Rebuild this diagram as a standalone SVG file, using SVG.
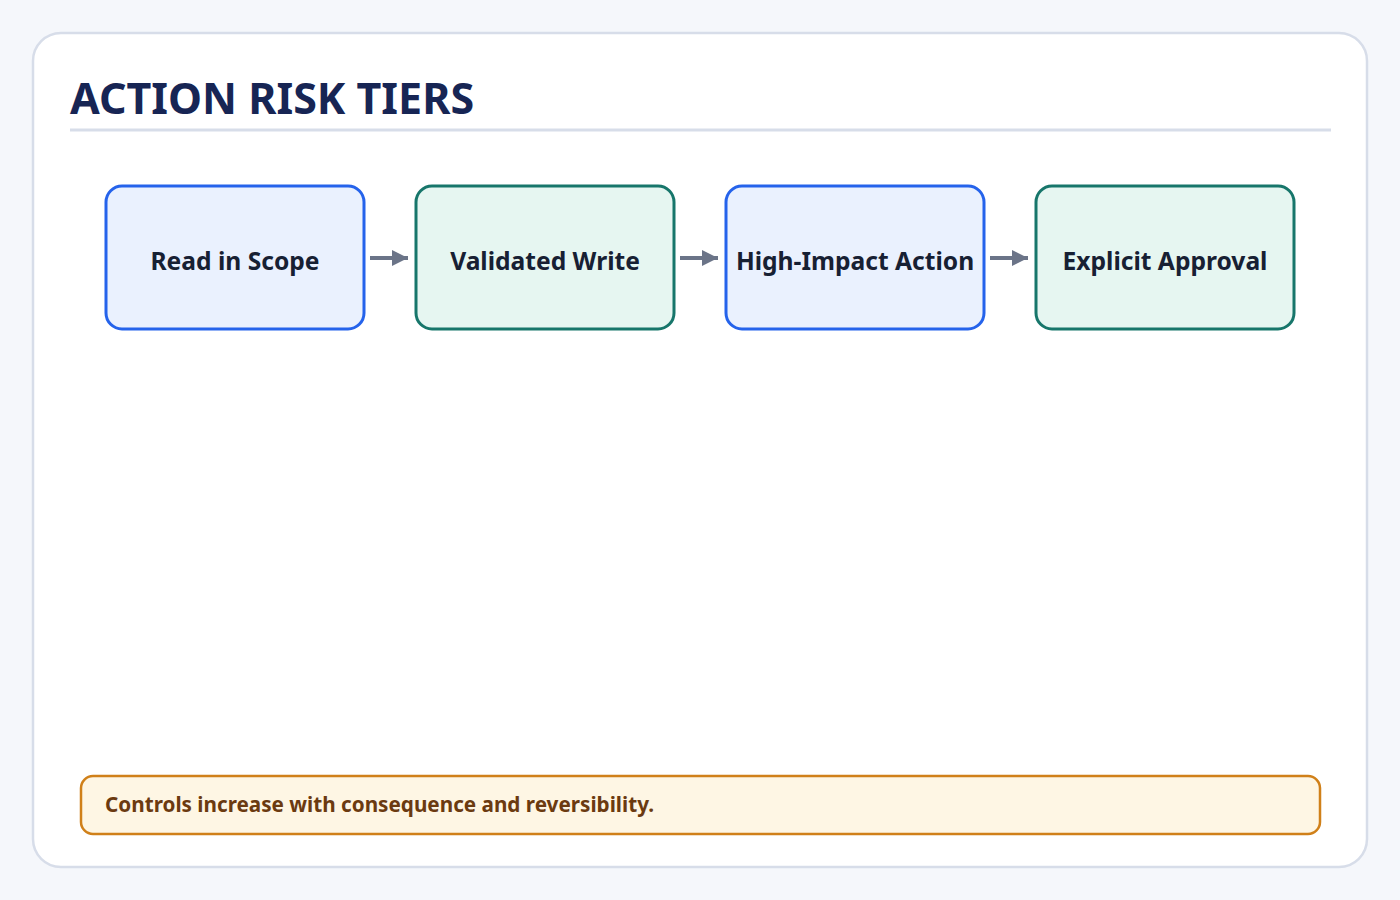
<svg xmlns="http://www.w3.org/2000/svg" width="1400" height="900" viewBox="0 0 1400 900">
<defs>
<style>
.card{fill:#ffffff;stroke:#d7dde9;stroke-width:2.5}
.title{font-family:"Noto Sans","Open Sans",sans-serif;font-weight:700;font-size:43px;fill:#172554}
.nb{fill:#eaf1fe;stroke:#2563eb;stroke-width:3}
.ng{fill:#e6f6f1;stroke:#17766b;stroke-width:3}
.lbl{font-family:"Noto Sans","Open Sans",sans-serif;font-weight:700;font-size:24.6px;fill:#172033;text-anchor:middle}
.conn{stroke:#6b7488;stroke-width:4;fill:none}
.note{fill:#fef6e4;stroke:#d08019;stroke-width:2.5}
.notet{font-family:"Noto Sans","Open Sans",sans-serif;font-weight:700;font-size:20.7px;fill:#6b3a10}
</style>
<marker id="ah" markerWidth="4" markerHeight="4" viewBox="0 0 10 10" refX="10" refY="5" orient="auto" markerUnits="strokeWidth">
<path d="M0,0 L10,5 L0,10 z" fill="#6b7488"/>
</marker>
</defs>
<rect width="1400" height="900" fill="#f5f7fb"/>
<rect class="card" x="33" y="33" width="1334" height="834" rx="28"/>
<text class="title" x="70" y="114">ACTION RISK TIERS</text>
<line x1="70" y1="130" x2="1331" y2="130" stroke="#d7dde9" stroke-width="3"/>
<g id="connectors">
<line class="conn" x1="370" y1="258" x2="408" y2="258" marker-end="url(#ah)"/>
<line class="conn" x1="680" y1="258" x2="718" y2="258" marker-end="url(#ah)"/>
<line class="conn" x1="990" y1="258" x2="1028" y2="258" marker-end="url(#ah)"/>
</g>
<g id="node1">
<rect class="nb" x="106" y="186" width="258" height="143" rx="16"/>
<text class="lbl" x="235" y="270">Read in Scope</text>
</g>
<g id="node2">
<rect class="ng" x="416" y="186" width="258" height="143" rx="16"/>
<text class="lbl" x="545" y="270">Validated Write</text>
</g>
<g id="node3">
<rect class="nb" x="726" y="186" width="258" height="143" rx="16"/>
<text class="lbl" x="855" y="270">High-Impact Action</text>
</g>
<g id="node4">
<rect class="ng" x="1036" y="186" width="258" height="143" rx="16"/>
<text class="lbl" x="1165" y="270">Explicit Approval</text>
</g>
<g id="note">
<rect class="note" x="81" y="776" width="1239" height="58" rx="12"/>
<text class="notet" x="105" y="812">Controls increase with consequence and reversibility.</text>
</g>
</svg>
